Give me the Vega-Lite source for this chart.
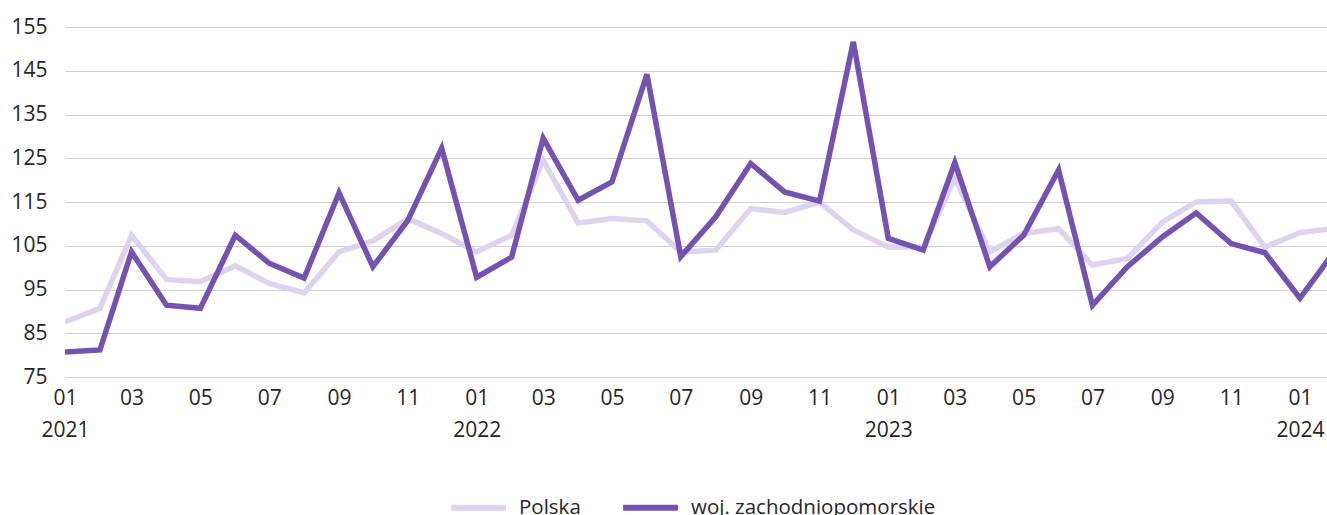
{
  "$schema": "https://vega.github.io/schema/vega-lite/v6.json",
  "autosize": {"type": "none"},
  "width": 1262,
  "height": 350,
  "padding": {"left": 65, "top": 27, "right": 0, "bottom": 138},
  "background": "white",
  "config": {
    "view": {"stroke": null},
    "font": "Open Sans",
    "axis": {"labelFont": "Open Sans", "labelColor": "#262626", "labelFontSize": 21},
    "legend": {"labelFont": "Open Sans", "labelColor": "#262626", "labelFontSize": 20.5}
  },
  "data": {"values": [
    {"date": "2021-01-01T00:00:00", "seria": "Polska", "wartosc": 87.6},
    {"date": "2021-02-01T00:00:00", "seria": "Polska", "wartosc": 90.7},
    {"date": "2021-03-01T00:00:00", "seria": "Polska", "wartosc": 107.4},
    {"date": "2021-04-01T00:00:00", "seria": "Polska", "wartosc": 97.3},
    {"date": "2021-05-01T00:00:00", "seria": "Polska", "wartosc": 96.8},
    {"date": "2021-06-01T00:00:00", "seria": "Polska", "wartosc": 100.4},
    {"date": "2021-07-01T00:00:00", "seria": "Polska", "wartosc": 96.4},
    {"date": "2021-08-01T00:00:00", "seria": "Polska", "wartosc": 94.2},
    {"date": "2021-09-01T00:00:00", "seria": "Polska", "wartosc": 103.6},
    {"date": "2021-10-01T00:00:00", "seria": "Polska", "wartosc": 106.1},
    {"date": "2021-11-01T00:00:00", "seria": "Polska", "wartosc": 111.2},
    {"date": "2021-12-01T00:00:00", "seria": "Polska", "wartosc": 107.8},
    {"date": "2022-01-01T00:00:00", "seria": "Polska", "wartosc": 103.6},
    {"date": "2022-02-01T00:00:00", "seria": "Polska", "wartosc": 107.4},
    {"date": "2022-03-01T00:00:00", "seria": "Polska", "wartosc": 124.5},
    {"date": "2022-04-01T00:00:00", "seria": "Polska", "wartosc": 110.2},
    {"date": "2022-05-01T00:00:00", "seria": "Polska", "wartosc": 111.2},
    {"date": "2022-06-01T00:00:00", "seria": "Polska", "wartosc": 110.7},
    {"date": "2022-07-01T00:00:00", "seria": "Polska", "wartosc": 103.6},
    {"date": "2022-08-01T00:00:00", "seria": "Polska", "wartosc": 104.0},
    {"date": "2022-09-01T00:00:00", "seria": "Polska", "wartosc": 113.5},
    {"date": "2022-10-01T00:00:00", "seria": "Polska", "wartosc": 112.6},
    {"date": "2022-11-01T00:00:00", "seria": "Polska", "wartosc": 115.0},
    {"date": "2022-12-01T00:00:00", "seria": "Polska", "wartosc": 108.6},
    {"date": "2023-01-01T00:00:00", "seria": "Polska", "wartosc": 104.7},
    {"date": "2023-02-01T00:00:00", "seria": "Polska", "wartosc": 104.7},
    {"date": "2023-03-01T00:00:00", "seria": "Polska", "wartosc": 120.4},
    {"date": "2023-04-01T00:00:00", "seria": "Polska", "wartosc": 103.6},
    {"date": "2023-05-01T00:00:00", "seria": "Polska", "wartosc": 107.8},
    {"date": "2023-06-01T00:00:00", "seria": "Polska", "wartosc": 108.9},
    {"date": "2023-07-01T00:00:00", "seria": "Polska", "wartosc": 100.6},
    {"date": "2023-08-01T00:00:00", "seria": "Polska", "wartosc": 102.1},
    {"date": "2023-09-01T00:00:00", "seria": "Polska", "wartosc": 110.4},
    {"date": "2023-10-01T00:00:00", "seria": "Polska", "wartosc": 115.0},
    {"date": "2023-11-01T00:00:00", "seria": "Polska", "wartosc": 115.2},
    {"date": "2023-12-01T00:00:00", "seria": "Polska", "wartosc": 104.7},
    {"date": "2024-01-01T00:00:00", "seria": "Polska", "wartosc": 108.0},
    {"date": "2024-02-01T00:00:00", "seria": "Polska", "wartosc": 109.0},
    {"date": "2021-01-01T00:00:00", "seria": "woj. zachodniopomorskie", "wartosc": 80.7},
    {"date": "2021-02-01T00:00:00", "seria": "woj. zachodniopomorskie", "wartosc": 81.2},
    {"date": "2021-03-01T00:00:00", "seria": "woj. zachodniopomorskie", "wartosc": 103.6},
    {"date": "2021-04-01T00:00:00", "seria": "woj. zachodniopomorskie", "wartosc": 91.4},
    {"date": "2021-05-01T00:00:00", "seria": "woj. zachodniopomorskie", "wartosc": 90.7},
    {"date": "2021-06-01T00:00:00", "seria": "woj. zachodniopomorskie", "wartosc": 107.4},
    {"date": "2021-07-01T00:00:00", "seria": "woj. zachodniopomorskie", "wartosc": 101.0},
    {"date": "2021-08-01T00:00:00", "seria": "woj. zachodniopomorskie", "wartosc": 97.6},
    {"date": "2021-09-01T00:00:00", "seria": "woj. zachodniopomorskie", "wartosc": 117.1},
    {"date": "2021-10-01T00:00:00", "seria": "woj. zachodniopomorskie", "wartosc": 100.2},
    {"date": "2021-11-01T00:00:00", "seria": "woj. zachodniopomorskie", "wartosc": 110.8},
    {"date": "2021-12-01T00:00:00", "seria": "woj. zachodniopomorskie", "wartosc": 127.3},
    {"date": "2022-01-01T00:00:00", "seria": "woj. zachodniopomorskie", "wartosc": 97.8},
    {"date": "2022-02-01T00:00:00", "seria": "woj. zachodniopomorskie", "wartosc": 102.4},
    {"date": "2022-03-01T00:00:00", "seria": "woj. zachodniopomorskie", "wartosc": 129.6},
    {"date": "2022-04-01T00:00:00", "seria": "woj. zachodniopomorskie", "wartosc": 115.4},
    {"date": "2022-05-01T00:00:00", "seria": "woj. zachodniopomorskie", "wartosc": 119.6},
    {"date": "2022-06-01T00:00:00", "seria": "woj. zachodniopomorskie", "wartosc": 144.2},
    {"date": "2022-07-01T00:00:00", "seria": "woj. zachodniopomorskie", "wartosc": 102.5},
    {"date": "2022-08-01T00:00:00", "seria": "woj. zachodniopomorskie", "wartosc": 111.6},
    {"date": "2022-09-01T00:00:00", "seria": "woj. zachodniopomorskie", "wartosc": 123.8},
    {"date": "2022-10-01T00:00:00", "seria": "woj. zachodniopomorskie", "wartosc": 117.3},
    {"date": "2022-11-01T00:00:00", "seria": "woj. zachodniopomorskie", "wartosc": 115.2},
    {"date": "2022-12-01T00:00:00", "seria": "woj. zachodniopomorskie", "wartosc": 151.6},
    {"date": "2023-01-01T00:00:00", "seria": "woj. zachodniopomorskie", "wartosc": 106.7},
    {"date": "2023-02-01T00:00:00", "seria": "woj. zachodniopomorskie", "wartosc": 104.0},
    {"date": "2023-03-01T00:00:00", "seria": "woj. zachodniopomorskie", "wartosc": 124.0},
    {"date": "2023-04-01T00:00:00", "seria": "woj. zachodniopomorskie", "wartosc": 100.2},
    {"date": "2023-05-01T00:00:00", "seria": "woj. zachodniopomorskie", "wartosc": 107.4},
    {"date": "2023-06-01T00:00:00", "seria": "woj. zachodniopomorskie", "wartosc": 122.3},
    {"date": "2023-07-01T00:00:00", "seria": "woj. zachodniopomorskie", "wartosc": 91.4},
    {"date": "2023-08-01T00:00:00", "seria": "woj. zachodniopomorskie", "wartosc": 100.2},
    {"date": "2023-09-01T00:00:00", "seria": "woj. zachodniopomorskie", "wartosc": 107.0},
    {"date": "2023-10-01T00:00:00", "seria": "woj. zachodniopomorskie", "wartosc": 112.5},
    {"date": "2023-11-01T00:00:00", "seria": "woj. zachodniopomorskie", "wartosc": 105.5},
    {"date": "2023-12-01T00:00:00", "seria": "woj. zachodniopomorskie", "wartosc": 103.4},
    {"date": "2024-01-01T00:00:00", "seria": "woj. zachodniopomorskie", "wartosc": 93.0},
    {"date": "2024-02-01T00:00:00", "seria": "woj. zachodniopomorskie", "wartosc": 103.8}
  ]},
  "mark": {"type": "line", "strokeWidth": 5.5, "clip": true, "strokeJoin": "miter", "strokeCap": "butt"},
  "encoding": {
    "x": {
      "field": "date",
      "type": "temporal",
      "scale": {"domain": [{"year": 2021, "month": 1, "date": 1}, {"year": 2024, "month": 1, "date": 25}]},
      "axis": {
        "title": null,
        "domain": false,
        "ticks": false,
        "grid": false,
        "tickCount": {"interval": "month", "step": 2},
        "labelExpr": "month(datum.value) == 0 ? [timeFormat(datum.value, '%m'), timeFormat(datum.value, '%Y')] : timeFormat(datum.value, '%m')",
        "labelPadding": 10,
        "labelLineHeight": 32,
        "labelOverlap": false,
        "labelFlush": false
      }
    },
    "y": {
      "field": "wartosc",
      "type": "quantitative",
      "scale": {"domain": [75, 155], "nice": false, "zero": false},
      "axis": {
        "title": null,
        "values": [75, 85, 95, 105, 115, 125, 135, 145, 155],
        "domain": false,
        "ticks": false,
        "labelPadding": 18,
        "gridColor": "#d0d0d0",
        "gridWidth": 1.2
      }
    },
    "color": {
      "field": "seria",
      "type": "nominal",
      "scale": {"domain": ["Polska", "woj. zachodniopomorskie"], "range": ["#ddd3ec", "#7352b0"]},
      "legend": {
        "title": null,
        "orient": "none",
        "legendX": 383,
        "legendY": 450,
        "direction": "horizontal",
        "symbolType": "stroke",
        "symbolSize": 3000,
        "symbolStrokeWidth": 6,
        "labelOffset": 10,
        "labelLimit": 0,
        "columnPadding": 30
      }
    }
  }
}
